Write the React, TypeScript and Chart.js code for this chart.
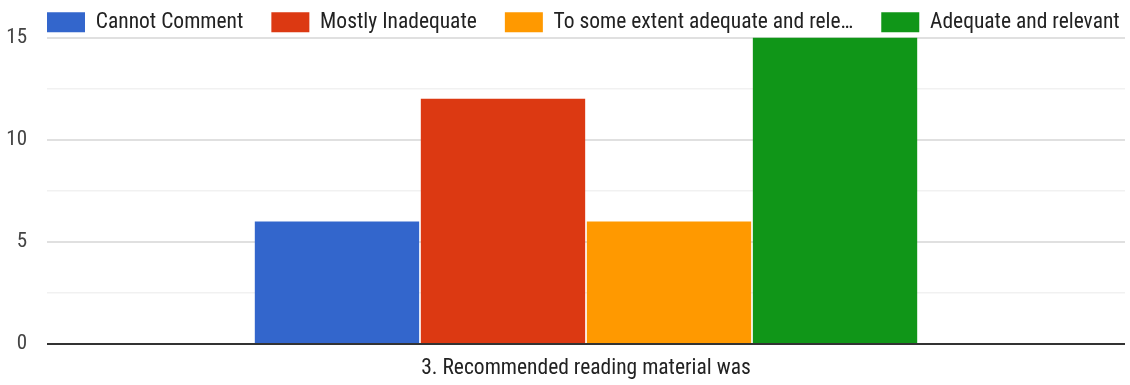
import React, { useEffect, useRef } from "react";
import { Chart, registerables } from "chart.js";

Chart.register(...registerables);

const categories = ["3. Recommended reading material was"];
const seriesLabels = [
  "Cannot Comment",
  "Mostly Inadequate",
  "To some extent adequate and relevant",
  "Adequate and relevant",
];
const cannotComment = [6];
const mostlyInadequate = [12];
const someExtent = [6];
const adequateRelevant = [15];
const seriesColors = ["#3366cc", "#dc3912", "#ff9900", "#109618"];
const yTickLabels = [0, 5, 10, 15];

const FONT = "'Liberation Sans Narrow', 'Roboto Condensed', 'Liberation Sans', Arial, sans-serif";
const MAX_LEGEND_CHARS = 32;
const LEGEND_PAD = 28;
const LEGEND_START_X = 47;

const legendTweak = {
  id: "legendTweak",
  beforeInit(chart: any) {
    const legend = chart.legend;
    if (!legend) return;
    const origUpdate = legend.update.bind(legend);
    legend.update = (mw: number, mh: number, m: any) => origUpdate(mw + 300, mh, m);
    const origDraw = legend.draw.bind(legend);
    legend.draw = () => {
      const l = legend.left;
      const r = legend.right;
      legend.left = LEGEND_START_X - LEGEND_PAD;
      legend.right = r + 300;
      origDraw();
      legend.left = l;
      legend.right = r;
    };
  },
};

export default function App() {
  const ref = useRef<HTMLCanvasElement | null>(null);
  useEffect(() => {
    document.body.style.margin = "0";
    if (!ref.current) return;
    const values = [cannotComment, mostlyInadequate, someExtent, adequateRelevant];
    const chart = new Chart(ref.current, {
      type: "bar",
      data: {
        labels: categories,
        datasets: seriesLabels.map((label, i) => ({
          label,
          data: values[i],
          backgroundColor: seriesColors[i],
          borderWidth: 0,
          categoryPercentage: 0.616,
          barPercentage: 0.99,
        })),
      },
      options: {
        animation: false,
        responsive: false,
        layout: { padding: { top: -16.5, left: 0, right: 5, bottom: 0 } },
        plugins: {
          tooltip: { enabled: false },
          legend: {
            position: "top",
            align: "start",
            maxHeight: 54,
            labels: {
              boxWidth: 38,
              boxHeight: 20,
              padding: LEGEND_PAD,
              color: "#222",
              font: { family: FONT, size: 21.5 },
              generateLabels: (c: any) => {
                const items = Chart.defaults.plugins.legend.labels.generateLabels(c);
                return items.map((it: any) => ({
                  ...it,
                  lineWidth: 0,
                  text:
                    it.text.length > MAX_LEGEND_CHARS
                      ? it.text.slice(0, MAX_LEGEND_CHARS) + "…"
                      : it.text,
                }));
              },
            },
          },
        },
        scales: {
          x: {
            offset: true,
            grid: { display: false, drawTicks: false },
            border: { display: false },
            ticks: { color: "#222", padding: 12, font: { family: FONT, size: 21.5 } },
            afterFit: (s: any) => {
              s.height = 41;
            },
          },
          y: {
            min: 0,
            max: 15,
            border: { display: false },
            ticks: {
              stepSize: 2.5,
              padding: 20,
              color: "#444",
              font: { family: FONT, size: 21 },
              callback: (v: any) => (yTickLabels.includes(Number(v)) ? String(v) : ""),
            },
            grid: {
              drawTicks: false,
              color: (ctx: any) => {
                const v = ctx.tick?.value;
                if (v === 0) return "#333333";
                return yTickLabels.includes(v) ? "#e0e0e0" : "#f1f1f1";
              },
              lineWidth: (ctx: any) => {
                const v = ctx.tick?.value;
                if (v === 0) return 2;
                return yTickLabels.includes(v) ? 2 : 1.5;
              },
            },
            afterFit: (s: any) => {
              s.width = 47;
            },
          },
        },
      },
      plugins: [legendTweak],
    } as any);
    return () => chart.destroy();
  }, []);
  return (
    <div style={{ width: 1130, height: 385 }}>
      <canvas ref={ref} width={1130} height={385} />
    </div>
  );
}
